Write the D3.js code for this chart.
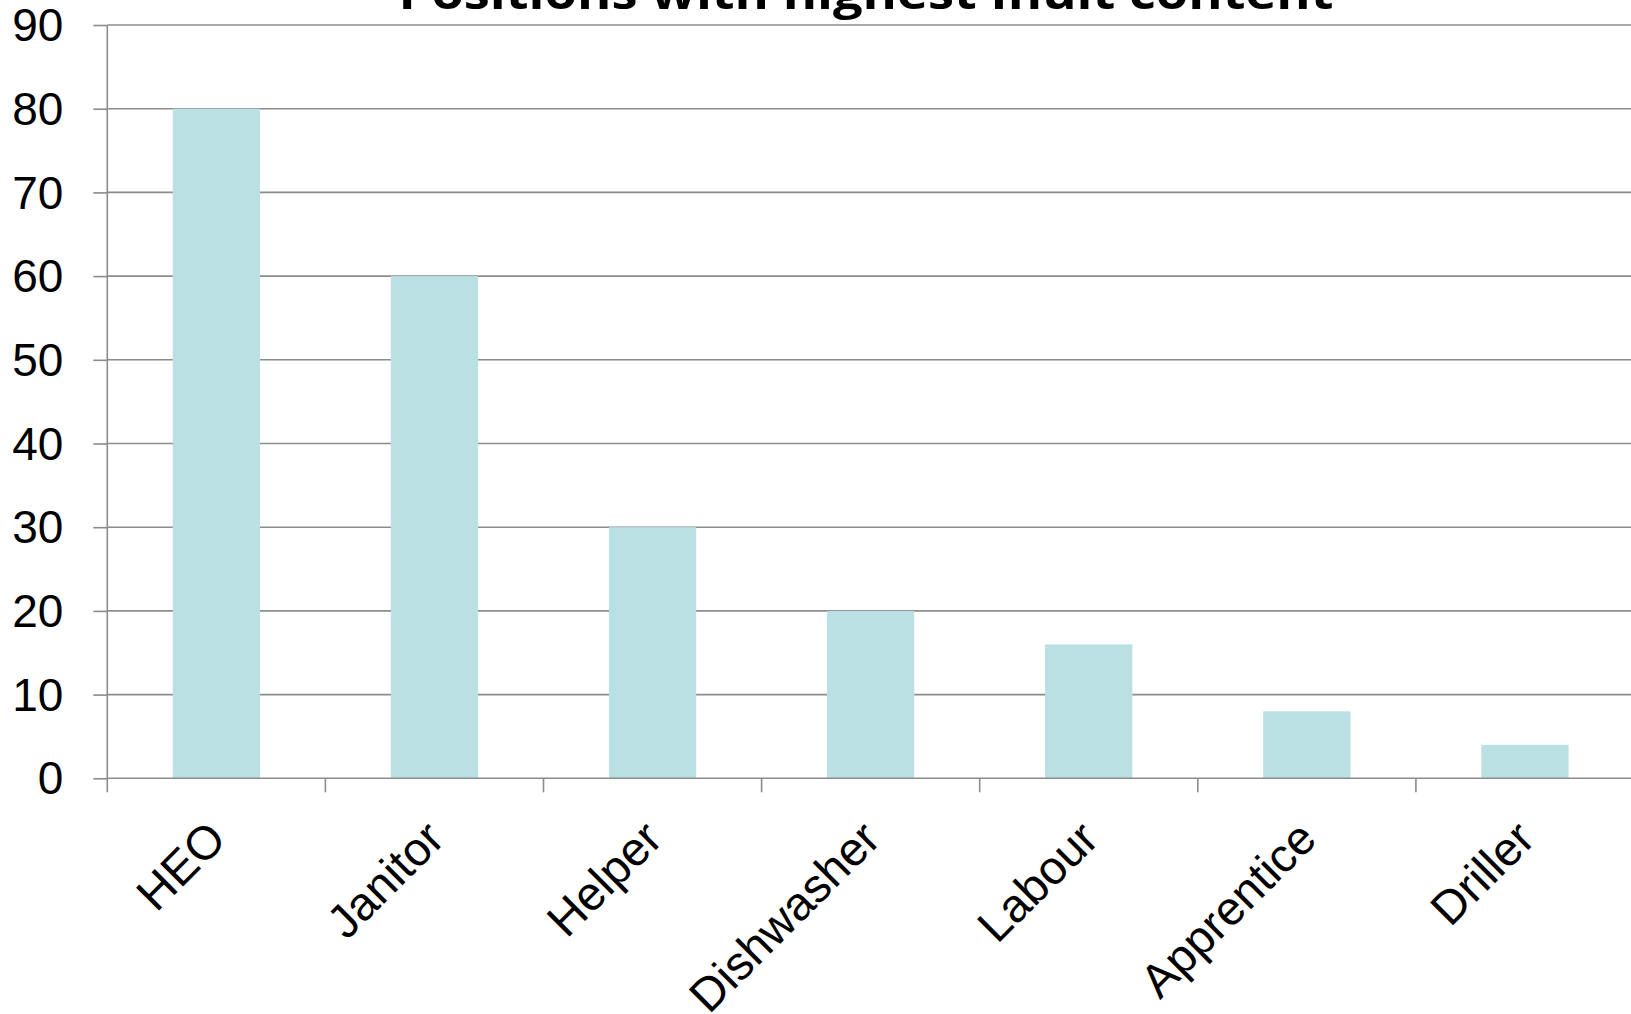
<!DOCTYPE html>
<html lang="en">
<head>
  <meta charset="UTF-8">
  <title>Positions with highest Inuit content</title>
  <script src="https://cdn.jsdelivr.net/npm/d3@7"></script>
  <style>
    body { margin: 0; background: #fff; }
    svg { display: block; }
    .grid line { stroke: #8c8c8c; stroke-width: 1.6; }
    .axis path, .axis line { stroke: #8c8c8c; stroke-width: 1.6; }
    .axis text { font-family: "Liberation Sans", Arial, sans-serif; fill: #000; }
  </style>
</head>
<body>
<svg width="1631" height="1014"></svg>
<script>
  // data
  const categories = ["HEO", "Janitor", "Helper", "Dishwasher", "Labour", "Apprentice", "Driller"];
  const values = [80, 60, 30, 20, 16, 8, 4];
  const yTicks = [0, 10, 20, 30, 40, 50, 60, 70, 80, 90];
  const title = "Positions with highest Inuit content";

  const svg = d3.select("svg");

  // plot area (right side runs a bit past the picture edge)
  const plotLeft = 107.3, plotRight = 1634, plotTop = 25, plotBottom = 778.3;

  const x = d3.scaleBand().domain(categories).range([plotLeft, plotRight]).padding(0);
  const y = d3.scaleLinear().domain([0, 90]).range([plotBottom, plotTop]);

  // gridlines
  svg.append("g").attr("class", "grid")
    .selectAll("line")
    .data(yTicks.filter(d => d > 0))
    .join("line")
    .attr("x1", plotLeft)
    .attr("x2", 1631)
    .attr("y1", d => y(d))
    .attr("y2", d => y(d));

  // bars
  const bw = x.bandwidth() * 0.4;
  svg.append("g")
    .selectAll("rect")
    .data(categories)
    .join("rect")
    .attr("x", d => x(d) + (x.bandwidth() - bw) / 2)
    .attr("y", (d, i) => y(values[i]))
    .attr("width", bw)
    .attr("height", (d, i) => y(0) - y(values[i]))
    .attr("fill", "#bae0e3");

  // y axis
  const yAxis = svg.append("g")
    .attr("class", "axis")
    .attr("transform", `translate(${plotLeft},0)`)
    .call(d3.axisLeft(y).tickValues(yTicks).tickSize(14).tickSizeOuter(0).tickPadding(30));
  yAxis.select(".domain").remove();
  yAxis.selectAll("text").attr("font-size", 46).attr("dy", "0.34em");
  yAxis.append("line")
    .attr("x1", 0).attr("x2", 0)
    .attr("y1", plotTop).attr("y2", plotBottom + 14);

  // x axis: line at 0, ticks at band boundaries, rotated labels
  const xAxis = svg.append("g")
    .attr("class", "axis")
    .attr("transform", `translate(0,${plotBottom})`)
    .call(d3.axisBottom(x).tickSize(0).tickSizeOuter(0));
  xAxis.select(".domain").attr("d", `M${plotLeft},0H1631`);
  xAxis.selectAll(".tick text")
    .attr("font-size", 47)
    .attr("text-anchor", "end")
    .attr("dy", 0)
    .attr("y", 0)
    .attr("transform", "translate(12,63) rotate(-45)");

  xAxis.append("g")
    .selectAll("line")
    .data(categories.slice(1))
    .join("line")
    .attr("x1", d => x(d)).attr("x2", d => x(d))
    .attr("y1", 0).attr("y2", 14);

  // title (cut off at the top, as in the source)
  svg.append("text")
    .attr("x", 866)
    .attr("y", 9)
    .attr("text-anchor", "middle")
    .attr("font-family", "'Open Sans', sans-serif")
    .attr("font-weight", "bold")
    .attr("font-size", 44)
    .attr("textLength", 935)
    .attr("lengthAdjust", "spacingAndGlyphs")
    .text(title);
</script>
</body>
</html>
